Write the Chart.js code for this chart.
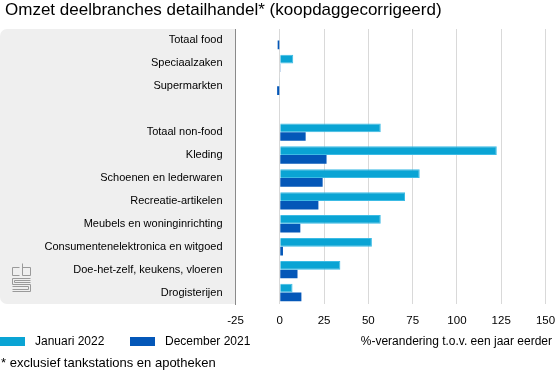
<!DOCTYPE html>
<html>
<head>
<meta charset="utf-8">
<script src="https://cdn.jsdelivr.net/npm/chart.js@4"></script>
<style>
    body { margin: 0; background: #fff; font-family: "Liberation Sans", Arial, sans-serif; color: #000; }
    #wrap { position: relative; width: 555px; height: 371px; overflow: hidden; }
    #chart { position: absolute; left: 0; top: 0; }
    .txt { position: absolute; white-space: nowrap; }
    .box { position: absolute; width: 25px; height: 9px; }
</style>
</head>
<body>
<div id="wrap">
    <canvas id="chart" width="555" height="371"></canvas>
    <div class="txt" style="left:5px; top:0px; font-size:17px;">Omzet deelbranches detailhandel* (koopdaggecorrigeerd)</div>
    <div class="box" style="left:0; top:337px; background:#0aa4d4;"></div>
    <div class="txt" style="left:35px; top:334px; font-size:12px;">Januari 2022</div>
    <div class="box" style="left:130px; top:337px; background:#0457b8;"></div>
    <div class="txt" style="left:165px; top:334px; font-size:12px;">December 2021</div>
    <div class="txt" style="right:3px; top:334px; font-size:12px;">%-verandering t.o.v. een jaar eerder</div>
    <div class="txt" style="left:1px; top:355px; font-size:13px;">* exclusief tankstations en apotheken</div>
</div>
<script>
const categories = [
    "Totaal food",
    "Speciaalzaken",
    "Supermarkten",
    "",
    "Totaal non-food",
    "Kleding",
    "Schoenen en lederwaren",
    "Recreatie-artikelen",
    "Meubels en woninginrichting",
    "Consumentenelektronica en witgoed",
    "Doe-het-zelf, keukens, vloeren",
    "Drogisterijen"
];

const januari2022 = [0, 7.6, -0.4, null, 57, 122.5, 79, 70.7, 57, 52, 34.2, 7.2];
const december2021 = [-1.2, 0.4, -1.5, null, 14.6, 26.4, 24.2, 21.8, 11.6, 1.8, 10, 12.2];

const xTicks = [-25, 0, 25, 50, 75, 100, 125, 150];

// grijs paneel achter de labels + cbs logo
const panelPlugin = {
    id: 'panel',
    beforeDraw(chart) {
        const ctx = chart.ctx;
        const area = chart.chartArea;
        ctx.save();
        ctx.fillStyle = '#efefef';
        ctx.beginPath();
        ctx.roundRect(0, area.top, area.left, area.bottom - area.top, [7, 0, 0, 7]);
        ctx.fill();

        // logo
        ctx.strokeStyle = '#9a9a9a';
        ctx.lineWidth = 1;
        const x = 12.5, y = 263.5;
        ctx.beginPath();
        // c
        ctx.moveTo(x + 7, y + 4); ctx.lineTo(x, y + 4); ctx.lineTo(x, y + 12); ctx.lineTo(x + 7, y + 12);
        // b
        ctx.moveTo(x + 10, y); ctx.lineTo(x + 10, y + 12); ctx.lineTo(x + 18, y + 12); ctx.lineTo(x + 18, y + 4); ctx.lineTo(x + 10, y + 4);
        // s
        ctx.moveTo(x + 18, y + 15); ctx.lineTo(x, y + 15); ctx.lineTo(x, y + 21); ctx.lineTo(x + 18, y + 21);
        ctx.lineTo(x + 18, y + 28); ctx.lineTo(x, y + 28);
        ctx.moveTo(x + 18, y + 17); ctx.lineTo(x + 2, y + 17); ctx.lineTo(x + 2, y + 19); ctx.lineTo(x + 18, y + 19);
        ctx.moveTo(x, y + 23); ctx.lineTo(x + 16, y + 23); ctx.lineTo(x + 16, y + 26); ctx.lineTo(x, y + 26);
        ctx.stroke();
        ctx.restore();
    }
};

new Chart(document.getElementById('chart').getContext('2d'), {
    type: 'bar',
    data: {
        labels: categories,
        datasets: [
            {
                label: 'Januari 2022',
                data: januari2022,
                backgroundColor: '#0aa4d4',
                borderColor: '#3cbbe4',
                borderWidth: 1,
                categoryPercentage: 0.76,
                barPercentage: 1
            },
            {
                label: 'December 2021',
                data: december2021,
                backgroundColor: '#0457b8',
                categoryPercentage: 0.76,
                barPercentage: 1
            }
        ]
    },
    options: {
        indexAxis: 'y',
        responsive: false,
        animation: false,
        layout: {
            padding: { top: 29, right: 9.5, left: 0, bottom: 0 }
        },
        plugins: {
            legend: { display: false },
            tooltip: { enabled: false }
        },
        scales: {
            x: {
                min: -25,
                max: 150,
                afterBuildTicks: (scale) => {
                    scale.ticks = xTicks.map(v => ({ value: v }));
                },
                afterFit: (scale) => {
                    scale.height = 67;
                    scale.paddingLeft = 0;
                    scale.paddingRight = 0;
                },
                grid: {
                    color: '#d9d9d9',
                    drawTicks: false
                },
                border: { display: false },
                ticks: {
                    padding: 10,
                    color: '#000',
                    font: { size: 11.5, family: "'Liberation Sans', Arial, sans-serif" }
                }
            },
            y: {
                afterFit: (scale) => {
                    scale.width = 235.5;
                    scale.paddingTop = 0;
                    scale.paddingBottom = 0;
                },
                grid: { display: false, drawTicks: false },
                border: { display: true, color: '#8a8a8a', width: 1 },
                ticks: {
                    padding: 13,
                    color: '#000',
                    autoSkip: false,
                    font: { size: 11, family: "'Liberation Sans', Arial, sans-serif" }
                }
            }
        }
    },
    plugins: [panelPlugin]
});
</script>
</body>
</html>
